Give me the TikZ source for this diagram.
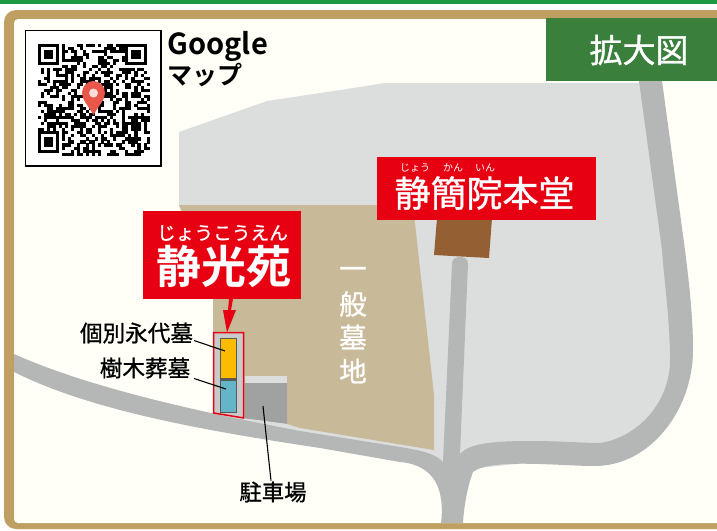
\documentclass[tikz,border=0pt]{standalone}
\usepackage{fontspec}
\setmainfont{Noto Sans CJK JP}
\newfontfamily\jpb{Noto Sans CJK JP Bold}
\newfontfamily\jpm[FakeBold=1]{Noto Sans CJK JP}
\definecolor{framecol}{HTML}{BF9F62}
\definecolor{papercol}{HTML}{FFFFF8}
\definecolor{topgreen}{HTML}{1B9A41}
\definecolor{tabgreen}{HTML}{3A7F3C}
\definecolor{landcol}{HTML}{DCDEDD}
\definecolor{roadcol}{HTML}{B5B7B6}
\definecolor{tancol}{HTML}{C8BA98}
\definecolor{redcol}{HTML}{E60012}
\definecolor{browncol}{HTML}{945F33}
\definecolor{orangecol}{HTML}{FBBC00}
\definecolor{bluecol}{HTML}{65B5C9}
\definecolor{parkcol}{HTML}{A0A2A1}
\definecolor{plotcol}{HTML}{C8C9C9}
\definecolor{pincol}{HTML}{E8574A}
\tikzset{
  redbox/.style={fill=redcol,draw=none},
  txt/.style={inner sep=0pt,outer sep=1pt,text=black},
  wtxt/.style={inner sep=0pt,text=white},
  leader/.style={draw=black,line width=1.1pt},
}
\newcommand{\fs}[1]{\fontsize{#1}{#1}\selectfont}
\begin{document}
\begin{tikzpicture}[x=1pt,y=-1pt]
\useasboundingbox (0,0) rectangle (717,530);
\fill[white] (0,0) rectangle (717,530);
\fill[topgreen] (0,0) rectangle (717,4);
% frame
\fill[framecol,rounded corners=12pt] (4,10) rectangle (740,529);
\fill[papercol,rounded corners=4pt] (14,19) rectangle (740,523);
% land
\fill[landcol] (179,132) -- (267,101) -- (360,87) -- (385,83) -- (650,83) -- (680,350)
  -- (660,430) -- (600,455) -- (460,470) -- (300,437) -- (213,420) -- (213,290) -- (179,205) -- cycle;
% tan
\fill[tancol] (179,205) -- (413,205) -- (434,395) -- (434,450) -- (300,428) -- (287,424) -- (213,413) -- (213,290) -- cycle;
% roads
\fill[roadcol] (14,354) .. controls (90,388) and (200,412) .. (300,431)
  -- (400,447) .. controls (425,451) and (437,455) .. (443,462)
  -- (452,264) .. controls (452,259.5) and (455,257) .. (460,257) .. controls (465,257) and (468,259.5) .. (468,264)
  -- (460,454)
  .. controls (468,445) and (485,441) .. (530,441)
  .. controls (560,441) and (585,443) .. (600,443)
  .. controls (635,438) and (670,405) .. (670,360)
  .. controls (670,320) and (664,280) .. (662,250) -- (639,81) -- (662,81)
  -- (685,250) .. controls (690,290) and (693,320) .. (693,350)
  .. controls (693,410) and (650,466) .. (595,466)
  .. controls (560,466) and (490,458) .. (473,472)
  .. controls (468,485) and (464,505) .. (463,523) -- (441,523)
  .. controls (445,490) and (435,465) .. (400,462)
  -- (320,448) .. controls (200,430) and (90,410) .. (14,372) -- cycle;
% tab
\fill[tabgreen] (546,18) rectangle (717,81);
\node[wtxt,font=\jpm\fs{33}] (tab) at (639,50) {拡大図};
% temple
\fill[browncol] (437,218) -- (492,218) -- (489,258) -- (434,255) -- cycle;
\node[redbox,minimum width=219pt,minimum height=63pt,inner sep=0pt,anchor=north west] (hondo) at (377,157) {};
\node[wtxt,font=\jpm\fs{36}] (hondot) at (484.5,193) {静簡院本堂};
\node[wtxt,font=\fs{10}] (f1) at (415,168) {じょう};
\node[wtxt,font=\fs{10}] (f2) at (453,168) {かん};
\node[wtxt,font=\fs{10}] (f3) at (485,168) {いん};
% general graves
\node[wtxt,font=\jpm\fs{27.5}] (g1) at (353,273) {一};
\node[wtxt,font=\jpm\fs{27.5}] (g2) at (353,304) {般};
\node[wtxt,font=\jpm\fs{27.5}] (g3) at (353,337) {墓};
\node[wtxt,font=\jpm\fs{27.5}] (g4) at (353,371) {地};
% parking
\fill[parkcol] (245,383) -- (287,383) -- (287,424) -- (245,418.5) -- cycle;
\fill[landcol] (245,376) rectangle (287,383);
\fill[landcol] (245,418.5) -- (287,424) -- (287,425.5) -- (245,420) -- cycle;
\coordinate (parkpt) at (263,406);
% plot
\draw[redcol,line width=1.5pt,fill=plotcol] (213.7,332.7) -- (243.7,332.7) -- (243.7,418) -- (213.7,413) -- cycle;
\coordinate (plotn) at (227,332.5);
\fill[black!65] (220,337.5) rectangle (236.5,412.5);
\fill[orangecol] (221,339) rectangle (235.5,377.5);
\fill[bluecol] (221,380.5) rectangle (235.5,411.5);
\coordinate (orangept) at (225,351);
\coordinate (bluept) at (226,389);
% red label
\node[redbox,minimum width=158pt,minimum height=88pt,inner sep=0pt,anchor=north west] (enbox) at (143,211) {};
\node[wtxt,font=\jpm\fs{18.7}] (enf) at (222.5,233) {じょうこうえん};
\node[wtxt,font=\jpb\fs{45}] (ent) at (223.5,266) {静光苑};
\fill[redcol] (229,299) -- (233,299) -- (231,310) -- (236,310) -- (plotn) -- (223,310) -- (228,310) -- cycle;
% labels
\node[txt,font=\jpm\fs{22.6}] (l1) at (136.5,333) {個別永代墓};
\node[txt,font=\jpm\fs{22.6}] (l2) at (145,368) {樹木葬墓};
\node[txt,font=\jpm\fs{22.4}] (l3) at (273,492) {駐車場};
\draw[leader] (194,340.5) -- (orangept);
\draw[leader] (194,378.5) -- (bluept);
\draw[leader] (l3.north -| 271,0) -- (parkpt);
% QR
\draw[black,line width=1.5pt,fill=white] (25.7,30.7) rectangle (161,166);
\begin{scope}[shift={(37.5,43.5)},x=3.03pt,y=-3.03pt]
  \pgfmathsetseed{4711}
  \foreach \r in {0,...,36}{
    \foreach \c in {0,...,36}{
      \pgfmathsetmacro{\v}{rnd}
      \pgfmathparse{(\v<0.52)?1:0}
      \ifnum\pgfmathresult=1
        \fill[black] (\c,\r) rectangle +(1.02,1.02);
      \fi
    }
  }
  \foreach \ox/\oy in {0/0,29/0,0/29}{
    \fill[white] (\ox-0.02,\oy-0.02) rectangle +(8.02,8.02);
    \fill[black] (\ox,\oy) rectangle +(7,7);
    \fill[white] (\ox+1,\oy+1) rectangle +(5,5);
    \fill[black] (\ox+2,\oy+2) rectangle +(3,3);
  }
\end{scope}
\fill[pincol] (93.5,115) .. controls (88,105) and (82,100) .. (82,93)
  .. controls (82,86.5) and (87,81) .. (93.5,81)
  .. controls (100,81) and (105,86.5) .. (105,93)
  .. controls (105,100) and (99,105) .. (93.5,115) -- cycle;
\fill[white!80!pincol] (93.5,93) circle[radius=4.5];
% Google
\node[txt,font=\jpb\fs{29},anchor=west] (gl) at (166.5,46) {Google};
\node[txt,font=\jpb\fs{25},anchor=west] (mp) at (166,75) {マップ};
\end{tikzpicture}
\end{document}
